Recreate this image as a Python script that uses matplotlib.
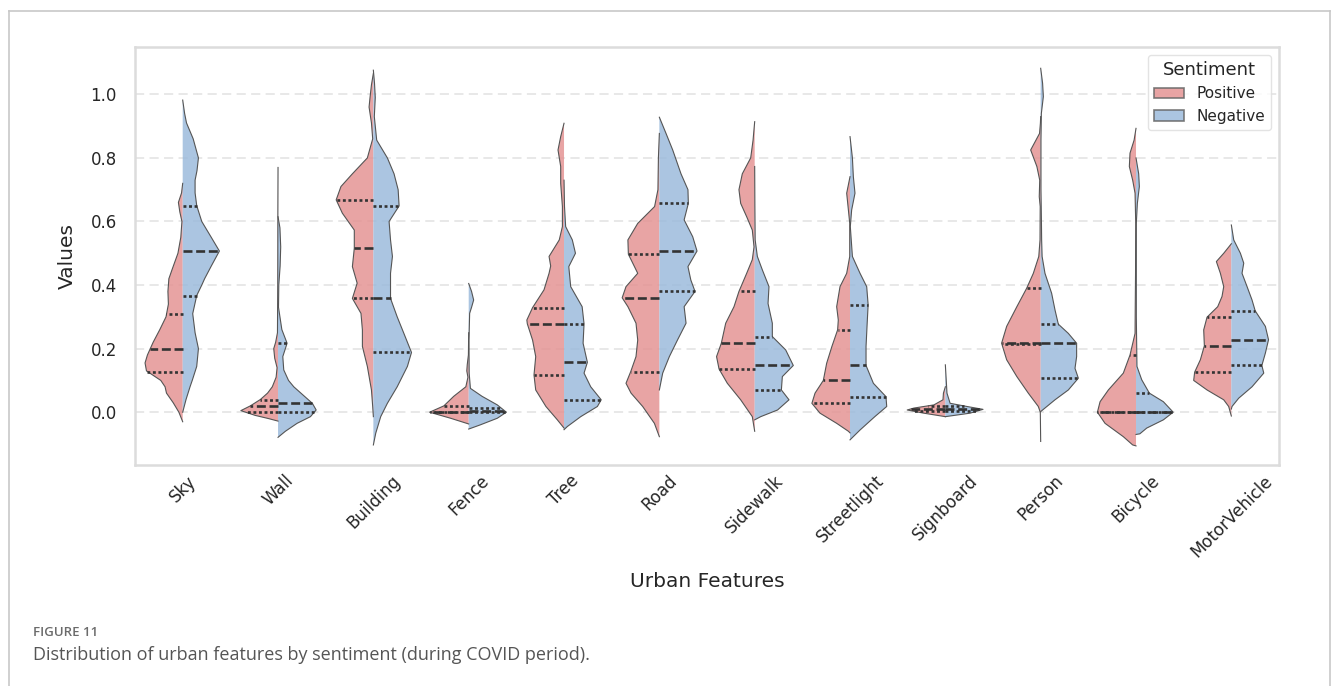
import numpy as np
import matplotlib
matplotlib.use("Agg")
import matplotlib.pyplot as plt
from matplotlib.patches import Patch
from matplotlib.lines import Line2D

plt.rcParams["font.family"] = ["DejaVu Sans"]

# ---------------- data ----------------
categories = ["Sky", "Wall", "Building", "Fence", "Tree", "Road", "Sidewalk",
              "Streetlight", "Signboard", "Person", "Bicycle", "MotorVehicle"]
sentiments = ["Positive", "Negative"]
yticks = [0.0, 0.2, 0.4, 0.6, 0.8, 1.0]

# density profiles: (value, half-width), top to bottom
sky_pos = [(0.72, 0), (0.69, 0.012), (0.66, 0.045), (0.63, 0.03), (0.60, 0.008), (0.55, 0.02),
           (0.50, 0.05), (0.45, 0.11), (0.42, 0.145), (0.38, 0.155), (0.34, 0.15), (0.30, 0.175),
           (0.26, 0.24), (0.22, 0.31), (0.18, 0.37), (0.155, 0.395), (0.13, 0.38), (0.10, 0.23),
           (0.08, 0.185), (0.06, 0.17), (0.03, 0.10), (0.0, 0.04), (-0.03, 0.0)]
sky_neg = [(0.982, 0), (0.94, 0.02), (0.91, 0.04), (0.86, 0.11), (0.80, 0.165), (0.76, 0.15),
           (0.73, 0.13), (0.69, 0.13), (0.65, 0.147), (0.60, 0.2), (0.55, 0.30), (0.507, 0.385),
           (0.46, 0.30), (0.42, 0.23), (0.40, 0.2), (0.367, 0.147), (0.31, 0.105), (0.25, 0.13),
           (0.20, 0.165), (0.144, 0.147), (0.10, 0.1), (0.08, 0.077), (0.04, 0.035), (0.0, 0.0)]
wall_pos = [(0.77, 0), (0.6, 0.002), (0.4, 0.003), (0.25, 0.006), (0.22, 0.025), (0.20, 0.045),
            (0.17, 0.035), (0.14, 0.01), (0.11, 0.02), (0.08, 0.06), (0.06, 0.11), (0.04, 0.185),
            (0.02, 0.29), (0.005, 0.39), (-0.01, 0.24), (-0.02, 0.10), (-0.028, 0)]
wall_neg = [(0.615, 0), (0.58, 0.02), (0.52, 0.028), (0.46, 0.022), (0.40, 0.008), (0.33, 0.005),
            (0.26, 0.04), (0.217, 0.095), (0.175, 0.05), (0.133, 0.06), (0.10, 0.11), (0.08, 0.165),
            (0.044, 0.30), (0.028, 0.36), (0.007, 0.40), (-0.014, 0.34), (-0.035, 0.2),
            (-0.06, 0.077), (-0.079, 0)]
building_pos = [(1.066, 0), (1.03, 0.02), (0.99, 0.035), (0.96, 0.045), (0.91, 0.02), (0.86, 0.007),
                (0.80, 0.063), (0.75, 0.22), (0.71, 0.34), (0.668, 0.39), (0.626, 0.325),
                (0.573, 0.2), (0.516, 0.2), (0.458, 0.22), (0.406, 0.17), (0.358, 0.22),
                (0.311, 0.13), (0.259, 0.115), (0.207, 0.115), (0.144, 0.063), (0.07, 0.02),
                (0.018, 0.007), (-0.014, 0)]
building_neg = [(1.076, 0), (1.035, 0.012), (0.99, 0.02), (0.93, 0.01), (0.856, 0.035), (0.80, 0.147),
                (0.75, 0.217), (0.70, 0.26), (0.649, 0.27), (0.60, 0.165), (0.542, 0.18),
                (0.49, 0.2), (0.437, 0.18), (0.358, 0.18), (0.30, 0.25), (0.248, 0.32),
                (0.188, 0.40), (0.144, 0.357), (0.08, 0.25), (0.028, 0.147), (-0.014, 0.077),
                (-0.066, 0.025), (-0.103, 0)]
fence_pos = [(0.25, 0), (0.18, 0.003), (0.15, 0.015), (0.13, 0.02), (0.11, 0.008), (0.08, 0.03),
             (0.05, 0.157), (0.02, 0.26), (0.0, 0.41), (-0.019, 0.19), (-0.037, 0)]
fence_neg = [(0.405, 0), (0.38, 0.03), (0.353, 0.052), (0.33, 0.03), (0.311, 0.01), (0.227, 0.003),
             (0.123, 0.005), (0.075, 0.018), (0.05, 0.14), (0.023, 0.30), (0.0, 0.395),
             (-0.019, 0.3), (-0.04, 0.12), (-0.053, 0)]
tree_pos = [(0.909, 0), (0.867, 0.035), (0.825, 0.063), (0.773, 0.035), (0.72, 0.035), (0.647, 0.017),
            (0.584, 0.017), (0.542, 0.05), (0.49, 0.157), (0.46, 0.14), (0.437, 0.157), (0.385, 0.21),
            (0.329, 0.33), (0.29, 0.39), (0.278, 0.385), (0.227, 0.33), (0.175, 0.297),
            (0.117, 0.315), (0.07, 0.297), (0.018, 0.19), (-0.024, 0.07), (-0.05, 0)]
tree_neg = [(0.73, 0), (0.647, 0.005), (0.584, 0.017), (0.542, 0.087), (0.50, 0.12), (0.458, 0.05),
            (0.395, 0.07), (0.332, 0.19), (0.278, 0.21), (0.217, 0.2), (0.157, 0.245),
            (0.123, 0.21), (0.08, 0.28), (0.039, 0.39), (0.018, 0.35), (-0.014, 0.175),
            (-0.045, 0.035), (-0.055, 0)]
road_pos = [(0.877, 0), (0.80, 0.01), (0.70, 0.015), (0.647, 0.05), (0.594, 0.227), (0.542, 0.33),
            (0.497, 0.325), (0.437, 0.227), (0.395, 0.35), (0.36, 0.39), (0.332, 0.33),
            (0.28, 0.245), (0.227, 0.227), (0.175, 0.245), (0.128, 0.30), (0.091, 0.35),
            (0.06, 0.297), (0.018, 0.175), (-0.035, 0.052), (-0.077, 0)]
road_neg = [(0.928, 0), (0.877, 0.07), (0.825, 0.14), (0.75, 0.227), (0.70, 0.30), (0.657, 0.304),
            (0.605, 0.26), (0.552, 0.35), (0.507, 0.395), (0.458, 0.30), (0.416, 0.33),
            (0.38, 0.374), (0.332, 0.26), (0.28, 0.28), (0.227, 0.19), (0.175, 0.105),
            (0.123, 0.035), (0.07, 0)]
sidewalk_pos = [(0.914, 0), (0.856, 0.017), (0.80, 0.042), (0.75, 0.13), (0.70, 0.165), (0.657, 0.147),
                (0.615, 0.084), (0.573, 0.025), (0.52, 0.007), (0.48, 0.025), (0.437, 0.084),
                (0.38, 0.165), (0.332, 0.217), (0.28, 0.304), (0.217, 0.35), (0.175, 0.40),
                (0.136, 0.374), (0.091, 0.287), (0.039, 0.147), (-0.014, 0.025), (-0.06, 0)]
sidewalk_neg = [(0.773, 0), (0.65, 0.002), (0.542, 0.005), (0.49, 0.028), (0.448, 0.08), (0.395, 0.15),
                (0.342, 0.14), (0.28, 0.185), (0.238, 0.185), (0.196, 0.325), (0.147, 0.405),
                (0.112, 0.29), (0.07, 0.28), (0.039, 0.36), (0.007, 0.24), (-0.014, 0.063),
                (-0.024, 0)]
streetlight_pos = [(0.741, 0), (0.689, 0.035), (0.636, 0.017), (0.594, 0.003), (0.49, 0.003),
                   (0.437, 0.035), (0.395, 0.105), (0.332, 0.14), (0.29, 0.123), (0.259, 0.13),
                   (0.207, 0.19), (0.154, 0.245), (0.10, 0.28), (0.06, 0.367), (0.028, 0.40),
                   (-0.003, 0.315), (-0.035, 0.14), (-0.06, 0.017), (-0.065, 0)]
streetlight_neg = [(0.867, 0), (0.80, 0.025), (0.741, 0.035), (0.689, 0.052), (0.636, 0.017),
                   (0.584, 0.003), (0.49, 0.025), (0.437, 0.105), (0.395, 0.175), (0.338, 0.19),
                   (0.28, 0.18), (0.207, 0.168), (0.147, 0.168), (0.091, 0.245), (0.049, 0.377),
                   (0.018, 0.385), (-0.014, 0.26), (-0.056, 0.105), (-0.087, 0)]
signboard_pos = [(0.08, 0), (0.06, 0.02), (0.039, 0.025), (0.023, 0.12), (0.013, 0.33), (0.007, 0.40),
                 (-0.003, 0.227), (-0.014, 0)]
signboard_neg = [(0.149, 0), (0.123, 0.005), (0.06, 0.017), (0.028, 0.05), (0.018, 0.227),
                 (0.009, 0.395), (-0.003, 0.26), (-0.014, 0)]
person_pos = [(0.93, 0), (0.909, 0.003), (0.877, 0.012), (0.825, 0.105), (0.773, 0.04), (0.73, 0.01),
              (0.678, 0.015), (0.647, 0.005), (0.542, 0.007), (0.49, 0.02), (0.437, 0.077),
              (0.39, 0.147), (0.332, 0.25), (0.27, 0.357), (0.217, 0.41), (0.165, 0.357),
              (0.112, 0.25), (0.06, 0.13), (0.018, 0.025), (0.0, 0.004), (-0.092, 0)]
person_neg = [(1.082, 0), (1.035, 0.02), (0.993, 0.028), (0.94, 0.007), (0.856, 0.003), (0.70, 0.003),
              (0.594, 0.008), (0.542, 0.01), (0.49, 0.015), (0.437, 0.045), (0.374, 0.115),
              (0.322, 0.15), (0.277, 0.185), (0.248, 0.29), (0.217, 0.377), (0.175, 0.377),
              (0.138, 0.36), (0.107, 0.395), (0.07, 0.29), (0.039, 0.15), (0.002, 0)]
bicycle_pos = [(0.893, 0), (0.856, 0.02), (0.815, 0.063), (0.773, 0.07), (0.73, 0.035), (0.689, 0.01),
               (0.594, 0.003), (0.437, 0.005), (0.332, 0.008), (0.248, 0.01), (0.18, 0.063),
               (0.123, 0.133), (0.07, 0.29), (0.033, 0.377), (0.0, 0.405), (-0.035, 0.325),
               (-0.077, 0.133), (-0.103, 0.035), (-0.106, 0)]
bicycle_neg = [(0.80, 0), (0.75, 0.028), (0.71, 0.035), (0.657, 0.014), (0.594, 0.003), (0.30, 0.003),
               (0.144, 0.01), (0.102, 0.06), (0.06, 0.14), (0.033, 0.287), (0.0, 0.39),
               (-0.024, 0.287), (-0.05, 0.112), (-0.068, 0.04), (-0.07, 0)]
motorvehicle_pos = [(0.53, 0), (0.5, 0.08), (0.474, 0.157), (0.437, 0.115), (0.395, 0.08),
                    (0.364, 0.098), (0.332, 0.143), (0.299, 0.255), (0.259, 0.29), (0.209, 0.283),
                    (0.165, 0.325), (0.126, 0.385), (0.10, 0.395), (0.07, 0.255), (0.039, 0.08),
                    (0.018, 0.028), (-0.012, 0)]
motorvehicle_neg = [(0.589, 0), (0.542, 0.025), (0.50, 0.095), (0.469, 0.13), (0.437, 0.112),
                    (0.395, 0.165), (0.353, 0.217), (0.319, 0.25), (0.27, 0.357), (0.228, 0.39),
                    (0.186, 0.357), (0.147, 0.32), (0.123, 0.34), (0.08, 0.217), (0.044, 0.077),
                    (0.018, 0.007), (0.01, 0)]

# quartiles per category
pos_q1 = [0.128, 0.0, 0.358, 0.0, 0.117, 0.128, 0.136, 0.028, 0.003, 0.215, 0.0, 0.126]
pos_med = [0.198, 0.02, 0.516, 0.0, 0.278, 0.36, 0.217, 0.10, 0.01, 0.217, 0.0, 0.209]
pos_q3 = [0.308, 0.039, 0.668, 0.02, 0.329, 0.497, 0.38, 0.259, 0.02, 0.39, 0.18, 0.299]
neg_q1 = [0.367, 0.0, 0.188, 0.0, 0.039, 0.38, 0.07, 0.049, 0.004, 0.107, 0.0, 0.147]
neg_med = [0.507, 0.028, 0.358, 0.005, 0.157, 0.507, 0.147, 0.147, 0.01, 0.217, 0.0, 0.228]
neg_q3 = [0.649, 0.217, 0.649, 0.012, 0.278, 0.657, 0.238, 0.338, 0.02, 0.277, 0.06, 0.319]

profiles_pos = [sky_pos, wall_pos, building_pos, fence_pos, tree_pos, road_pos, sidewalk_pos,
                streetlight_pos, signboard_pos, person_pos, bicycle_pos, motorvehicle_pos]
profiles_neg = [sky_neg, wall_neg, building_neg, fence_neg, tree_neg, road_neg, sidewalk_neg,
                streetlight_neg, signboard_neg, person_neg, bicycle_neg, motorvehicle_neg]

# ---------------- style ----------------
col_pos = "#E49494"
col_neg = "#9CBBDC"
fill_alpha = 0.85
edge_col = "#555555"
inner_col = "#333333"
text_col = "#262626"

fig = plt.figure(figsize=(13.33, 6.86), dpi=100)
ax = fig.add_axes([0.1013, 0.3222, 0.8582, 0.6093])

ax.set_xlim(-0.5, len(categories) - 0.5)
ax.set_ylim(-0.166, 1.149)
ax.set_yticks(yticks)
ax.set_yticklabels([f"{t:.1f}" for t in yticks])
ax.set_xticks(range(len(categories)))
ax.set_xticklabels(categories, rotation=45, ha="center")
ax.tick_params(axis="both", length=0, labelsize=12, colors=text_col)
ax.tick_params(axis="y", pad=13)
ax.tick_params(axis="x", pad=5)
ax.yaxis.grid(True, color="#e2e2e2", linewidth=1.1, linestyle=(0, (6, 3.5)))
ax.xaxis.grid(False)
ax.set_axisbelow(True)
for s in ax.spines.values():
    s.set_color("#dcdcdc")
    s.set_linewidth(1.8)


def draw_half(ax, c, prof, sign, color, quarts):
    v = np.array([p[0] for p in prof])
    w = np.array([p[1] for p in prof])
    xs = c + sign * w
    ax.fill(np.concatenate([[c], xs, [c]]), np.concatenate([[v[0]], v, [v[-1]]]),
            facecolor=color, alpha=fill_alpha, edgecolor="none", zorder=2)
    ax.plot(np.concatenate([[c], xs, [c]]), np.concatenate([[v[0]], v, [v[-1]]]),
            color=edge_col, linewidth=0.8, zorder=2.5)
    order = np.argsort(v)
    for q, style in zip(quarts, [(0, (1.1, 1.0)), (0, (3.4, 1.4)), (0, (1.1, 1.0))]):
        wq = np.interp(q, v[order], w[order])
        ax.plot([c, c + sign * wq], [q, q], color=inner_col, linewidth=1.9,
                linestyle=style, dash_capstyle="butt", zorder=3)


for i, cat in enumerate(categories):
    draw_half(ax, i, profiles_pos[i], -1, col_pos, (pos_q1[i], pos_med[i], pos_q3[i]))
    draw_half(ax, i, profiles_neg[i], +1, col_neg, (neg_q1[i], neg_med[i], neg_q3[i]))

ax.set_xlabel("Urban Features", fontsize=14.5, color=text_col, labelpad=8)
ax.set_ylabel("Values", fontsize=14.5, color=text_col, labelpad=10)

handles = [Patch(facecolor=col_pos, alpha=fill_alpha, edgecolor="#666666", linewidth=1.2),
           Patch(facecolor=col_neg, alpha=fill_alpha, edgecolor="#666666", linewidth=1.2)]
leg = ax.legend(handles, sentiments, title="Sentiment", loc="upper right", fontsize=11,
                title_fontsize=13, frameon=True, fancybox=True)
leg.get_frame().set_edgecolor("#dddddd")
leg.get_title().set_color(text_col)
for t in leg.get_texts():
    t.set_color(text_col)

# page frame and caption
W, H = 1333, 686
frame_col = "#c8c8c8"
fig.add_artist(Line2D([8.5 / W, 8.5 / W], [0, 1 - 10.5 / H], color=frame_col, lw=1.2))
fig.add_artist(Line2D([8.5 / W, 1330 / W], [1 - 10.5 / H, 1 - 10.5 / H], color=frame_col, lw=1.2))
fig.add_artist(Line2D([1330 / W, 1330 / W], [0, 1 - 10.5 / H], color=frame_col, lw=1.2))
fig.text(33 / W, 1 - 632 / H, "FIGURE 11", fontsize=9.5, family="Open Sans", weight="semibold",
         color="#6b6b6b", va="center", ha="left")
fig.text(33 / W, 1 - 655 / H, "Distribution of urban features by sentiment (during COVID period).",
         fontsize=13, family="Open Sans", color="#555555", va="center", ha="left")

fig.savefig("out.png", dpi=100)
